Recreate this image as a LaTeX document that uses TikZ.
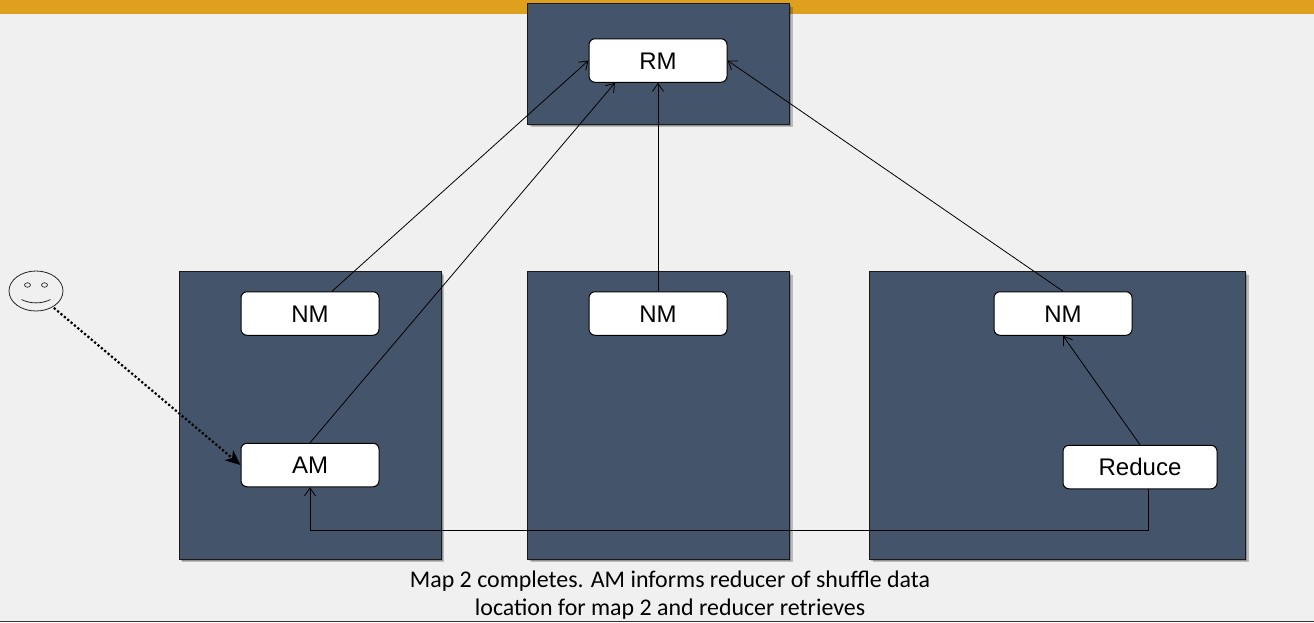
\documentclass[tikz,border=0pt]{standalone}
\usepackage{fontspec}
\setmainfont{Liberation Sans}
\newfontfamily\capfont{Carlito}
\usetikzlibrary{arrows.meta,shadows,shapes.geometric}
\definecolor{bgc}{HTML}{F0F0F0}
\definecolor{barc}{HTML}{DFA01E}
\definecolor{hostc}{HTML}{44546A}
\tikzset{
  x=1pt,y=-1pt,
  host/.style={draw=black!90,line width=1pt,fill=hostc,anchor=north west,inner sep=0pt,
    double copy shadow={shadow xshift=1.6pt,shadow yshift=-1.6pt,opacity=.22,fill=black,draw=none},
    },
  proc/.style={draw=black,line width=1pt,fill=white,rounded corners=6pt,inner sep=0pt,
    minimum width=138pt,minimum height=43.5pt,text height=17pt,text depth=0pt,
    font=\fontsize{24}{26}\selectfont,text=black},
  link/.style={draw=black,line width=.8pt,-{Straight Barb[length=8pt,width=11pt,line width=.8pt]}},
  dotlink/.style={draw=black,line width=2.2pt,dash pattern=on 2.2pt off 2.2pt,
    -{Stealth[length=15pt,width=13pt,inset=4pt]}},
  face/.style={draw=black!85,line width=.8pt,fill=none,ellipse,inner sep=0pt},
  capt/.style={font=\capfont\fontsize{23.9}{28}\selectfont,align=center,text=black,inner sep=0pt},
}
\begin{document}
\begin{tikzpicture}
\useasboundingbox (0,0) rectangle (1314,622);
\fill[bgc] (0,0) rectangle (1314,622);
\fill[barc] (0,0) rectangle (1314,14);
\draw[black!80,line width=1pt] (0,621.5) -- (1314,621.5);
% hosts
\node[host,minimum width=262pt,minimum height=120.5pt] (hostR) at (527,3) {};
\node[host,minimum width=262pt,minimum height=287.5pt] (hostA) at (178.7,271) {};
\node[host,minimum width=262pt,minimum height=287.5pt] (hostB) at (527,271) {};
\node[host,minimum width=376pt,minimum height=287.5pt] (hostC) at (869.3,271) {};
% processes
\node[proc] (RM) at (658,60.5) {RM};
\node[proc] (NMa) at (310,313.5) {NM};
\node[proc] (AM) at (310,465) {AM};
\node[proc] (NMb) at (658,313.5) {NM};
\node[proc] (NMc) at (1063,313.5) {NM};
\node[proc,minimum width=154pt] (RD) at (1140,467) {Reduce};
% connectors
\draw[link] ([xshift=22pt]NMa.north) -- (RM.west);
\draw[link] (AM.north) -- ([xshift=-43pt]RM.south);
\draw[link] (NMb.north) -- (RM.south);
\draw[link] (NMc.north) -- (RM.east);
\draw[link] (RD.north) -- (NMc.south);
\draw[link] ([xshift=8pt]RD.south) |- (310,530) -- (AM.south);
% user
\node[face,minimum width=54pt,minimum height=40pt] (user) at (36,291) {};
\node[face,line width=.7pt,minimum width=6pt,minimum height=4.5pt] (eyeL) at (27.5,285) {};
\node[face,line width=.7pt,minimum width=6pt,minimum height=4.5pt] (eyeR) at (44.5,285) {};
\draw[black!85,line width=.8pt] (21.5,299.5) .. controls (30,304) and (42,304) .. (50.5,299.5);
\draw[dotlink] ([shift={(1.5,0.5)}]user.-45) -- (AM.west);
% caption
\node[capt] (caption) at (670,595.5) {Map 2 completes. AM informs reducer of shuffle data\\location for map 2 and reducer retrieves};
\end{tikzpicture}
\end{document}
